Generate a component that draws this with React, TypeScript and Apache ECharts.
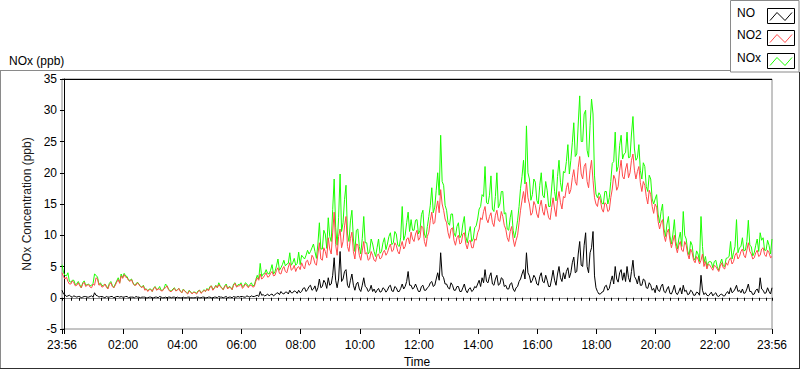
import React, { useEffect, useRef } from "react";
import * as echarts from "echarts";

// First sample at 23:56 (= -4 minutes from midnight), one sample every 3 minutes
const START_MIN = -4;
const STEP_MIN = 3;

// NO (ppb)
const NO = [
  1.2,0.6,0.5,0.2,0.3,0.4,0.2,0.1,0.3,0.2,0.1,0.2,0.2,0.0,0.1,0.2,0.2,0.1,0.1,0.2,
  0.3,0.1,0.8,0.4,0.3,0.1,0.2,0.2,0.1,0.0,0.2,0.1,0.1,0.2,0.2,0.0,0.1,0.2,0.2,0.1,
  0.2,0.1,0.1,0.2,0.2,0.0,0.1,0.1,0.1,0.0,0.2,0.1,0.1,0.0,0.1,0.1,0.1,0.0,0.0,0.1,
  0.1,0.0,0.0,0.1,0.1,0.0,0.2,0.1,0.0,0.0,0.1,0.0,0.1,0.1,0.0,0.1,0.1,0.0,0.1,0.0,
  0.0,0.0,0.1,0.0,0.0,0.1,0.1,0.0,0.0,0.0,0.0,0.1,0.1,0.0,0.0,0.1,0.1,0.0,0.0,0.1,
  0.1,0.0,0.0,0.1,0.1,0.0,0.2,0.1,0.1,0.0,0.1,0.2,0.0,0.1,0.1,0.0,0.2,0.1,0.1,0.2,
  0.1,0.2,0.2,0.1,0.1,0.3,0.2,0.1,0.3,0.2,0.2,0.3,0.4,0.2,1.0,0.4,0.5,0.3,0.4,0.6,
  0.3,0.5,0.6,0.3,0.5,0.7,0.8,0.5,1.0,0.7,0.6,0.9,0.9,0.6,1.2,0.8,0.8,1.1,1.0,0.7,
  1.2,0.8,1.0,1.5,1.6,1.0,1.3,1.8,2.0,1.2,1.4,1.9,1.0,1.6,3.0,1.6,1.8,2.8,2.4,1.5,
  3.2,2.0,2.2,3.6,6.4,2.8,1.6,3.0,7.4,2.6,3.0,4.2,4.5,2.0,1.6,2.8,3.8,2.0,1.2,2.2,
  2.5,1.4,1.0,2.0,3.2,1.8,1.6,1.0,1.2,2.0,1.0,1.4,0.8,1.2,1.5,0.9,1.0,1.6,1.4,0.9,
  1.2,1.8,2.0,1.1,1.0,1.8,1.6,1.0,1.0,1.5,2.2,1.4,1.8,2.6,4.2,2.0,2.0,1.4,1.6,2.2,
  1.6,1.0,1.0,1.8,2.0,1.2,1.2,1.6,1.8,2.4,2.6,1.8,2.0,3.0,4.0,2.8,7.2,3.6,3.2,2.2,
  2.2,1.6,1.4,2.4,2.0,1.2,1.2,1.8,1.8,1.0,1.0,1.6,2.2,1.2,0.8,1.4,1.6,1.0,1.2,1.8,
  1.6,2.2,2.8,1.8,3.2,2.4,4.5,2.6,2.4,3.4,4.0,2.2,2.0,3.0,3.6,2.0,2.2,3.2,3.0,1.8,
  2.0,1.4,1.4,2.2,2.4,1.4,1.0,1.6,1.8,2.6,3.0,3.8,4.5,3.0,7.2,4.0,3.5,2.4,2.8,3.6,
  3.2,2.2,2.0,3.4,4.0,2.6,2.4,3.6,2.8,1.8,1.8,3.0,4.4,2.8,2.0,3.8,5.0,3.2,2.6,4.0,
  3.0,4.2,4.8,3.2,4.0,5.6,6.5,4.0,4.2,7.0,9.0,5.2,5.0,8.4,10.4,5.0,4.0,7.2,8.0,10.6,
  3.5,1.6,1.0,0.6,0.6,0.9,1.0,1.8,2.0,1.2,1.5,2.6,3.5,2.2,5.0,3.0,2.5,4.0,4.5,2.8,
  4.0,2.6,5.0,3.2,2.5,4.2,6.0,3.4,3.0,2.2,3.5,2.0,2.0,3.0,2.8,1.6,1.5,2.4,2.0,1.2,
  1.5,0.8,2.0,1.2,1.0,1.8,2.2,1.0,0.8,1.4,1.8,0.7,0.6,1.2,2.0,0.8,0.5,1.0,1.6,0.6,
  2.0,1.0,1.2,0.5,0.6,1.2,1.0,0.4,0.4,0.9,0.8,0.4,3.6,1.2,0.5,0.8,0.4,0.3,0.6,0.9,
  0.3,0.6,0.8,0.3,0.2,0.5,0.6,0.3,0.3,0.7,1.0,0.6,1.6,0.8,1.0,1.4,2.0,1.0,1.2,0.8,
  1.4,0.7,0.8,1.4,2.2,1.0,1.0,0.5,0.6,1.2,1.4,0.8,3.2,1.4,1.2,0.7,0.8,1.6,1.0,0.6,
  1.6,
];

// NO2 (ppb)
const NO2 = [
  4.0,3.4,3.0,3.3,2.6,2.2,2.2,2.7,2.4,1.9,2.0,2.4,1.9,1.6,2.2,2.5,1.8,2.0,2.1,1.7,
  1.6,2.2,2.0,3.2,3.0,2.0,2.2,1.7,1.8,2.2,1.7,1.4,2.1,2.4,1.8,1.6,2.0,2.5,2.9,2.3,
  3.5,3.1,3.7,3.3,3.2,2.8,2.6,2.9,2.3,2.0,2.0,2.4,2.1,1.8,1.6,1.9,1.2,1.4,1.0,1.3,
  1.3,1.0,1.5,1.7,1.2,1.4,1.4,1.1,1.1,1.5,1.6,1.9,1.3,1.0,1.0,1.3,1.5,1.1,1.2,1.5,
  1.0,0.8,1.3,1.1,0.8,0.6,1.1,0.9,0.6,0.9,0.8,0.6,1.0,1.2,0.7,0.9,1.2,1.0,1.4,1.1,
  1.6,1.9,1.2,1.5,1.9,1.6,2.1,1.8,1.5,1.3,1.8,2.0,1.4,1.7,1.6,1.3,2.0,2.3,1.7,1.9,
  1.9,2.2,1.5,1.8,2.2,1.9,1.6,2.0,2.0,1.7,1.8,2.6,3.2,2.8,3.8,3.0,3.2,3.6,4.0,3.3,
  3.4,3.9,4.2,3.5,3.6,4.4,4.8,3.9,3.8,4.6,5.0,4.2,4.0,4.9,5.6,4.4,4.6,5.2,4.2,4.8,
  5.0,4.5,5.6,5.0,4.6,5.8,6.0,5.2,5.4,6.8,6.4,5.5,5.2,7.0,8.8,6.2,6.0,8.0,7.4,6.4,
  9.6,7.8,7.0,10.5,13.7,8.5,6.8,9.8,11.0,8.0,9.0,11.5,13.0,8.2,7.4,9.5,10.5,7.4,6.2,8.6,
  8.5,6.8,6.0,7.5,9.0,7.0,7.2,6.0,6.2,7.4,6.8,6.0,5.8,6.8,7.0,6.2,6.4,7.2,7.6,6.8,
  7.2,8.0,8.6,7.4,7.6,8.8,8.4,7.4,7.0,8.2,9.0,7.8,8.2,9.4,9.6,8.6,10.5,9.4,9.0,10.2,
  10.8,9.2,9.6,11.5,11.2,9.0,8.2,9.8,10.5,12.4,13.7,11.8,12.0,14.2,15.5,13.6,17.3,15.0,14.0,12.6,
  12.0,10.4,9.5,11.0,11.2,9.2,8.4,9.6,10.0,8.6,8.8,10.2,10.4,8.6,7.8,9.0,9.2,8.0,8.0,9.4,
  9.2,10.4,11.0,12.8,12.5,13.8,14.6,12.6,12.0,13.0,13.6,12.0,11.4,13.2,14.0,12.4,12.2,13.8,13.0,11.6,
  11.0,9.6,9.0,10.6,11.4,9.4,8.2,9.2,10.0,12.0,14.0,15.6,17.0,15.2,18.5,16.0,15.0,13.2,13.6,15.4,
  14.8,13.4,12.8,14.6,15.6,13.8,13.2,15.0,14.0,12.8,12.5,14.4,16.0,14.2,13.0,15.6,17.0,15.2,14.2,16.2,
  16.0,17.6,18.4,16.6,17.3,19.2,20.5,18.6,18.0,20.8,22.6,19.8,19.0,21.0,21.5,18.6,17.6,20.4,22.0,18.8,
  16.0,15.0,14.6,16.2,15.6,14.2,13.7,15.2,15.0,13.8,14.0,16.0,17.4,19.6,19.0,17.2,17.8,20.4,22.0,19.4,
  19.0,20.6,21.5,19.2,20.0,22.0,23.0,20.4,19.0,20.2,21.0,18.4,17.0,18.6,18.0,16.2,15.0,17.2,16.5,14.6,
  13.5,15.0,14.5,12.2,11.0,12.0,12.5,10.0,9.0,10.4,11.0,9.2,8.0,9.0,10.0,8.2,7.2,8.4,9.0,7.6,
  7.4,9.0,8.4,7.0,6.2,7.8,7.2,6.0,5.6,6.6,6.2,5.4,6.0,7.0,5.0,5.8,4.6,5.4,5.2,4.8,
  4.4,5.2,5.0,4.6,4.2,5.0,5.6,4.8,4.6,5.6,5.2,6.0,6.4,5.4,5.8,6.8,7.2,6.2,6.6,7.4,
  7.8,6.8,6.4,7.6,8.8,7.4,7.0,6.2,6.4,7.2,7.6,6.6,6.8,7.8,8.0,6.9,6.6,7.6,7.2,6.4,
  6.6,
];

// NOx (ppb)
const NOX = [
  5.3,4.0,3.6,3.5,4.0,2.6,2.5,2.8,2.8,2.1,2.2,2.6,2.1,1.6,2.4,2.7,2.0,2.1,2.2,1.9,
  2.0,2.3,3.8,3.6,3.3,2.1,2.4,1.9,2.0,2.2,1.9,1.5,2.3,2.6,2.0,1.6,2.2,2.7,3.2,2.4,
  3.8,3.2,3.9,3.5,3.4,2.8,2.8,3.0,2.4,2.0,2.2,2.5,2.2,1.8,1.7,2.0,1.4,1.4,1.1,1.4,
  1.4,1.0,1.6,1.8,1.3,1.4,1.8,1.2,1.2,1.5,2.2,1.9,1.4,1.1,1.1,1.4,1.6,1.1,1.3,1.5,
  1.1,0.8,1.4,1.1,0.9,0.7,1.2,0.9,0.7,0.9,0.9,0.7,1.1,1.2,0.8,1.0,1.3,1.0,1.5,1.2,
  1.8,1.9,1.3,1.6,2.0,1.6,2.4,1.9,1.6,1.3,1.9,2.2,1.5,1.8,1.7,1.3,2.2,2.4,1.8,2.1,
  2.1,2.4,1.8,1.9,2.4,2.2,1.8,2.1,2.4,1.9,2.0,2.9,3.6,3.0,5.5,3.4,3.8,3.9,4.5,3.9,
  3.8,4.4,5.3,3.8,4.2,5.1,6.2,4.4,4.8,5.3,6.0,5.1,5.4,5.5,7.2,5.2,5.6,6.3,5.2,5.5,
  7.3,5.3,6.8,6.5,6.2,6.8,7.6,7.0,7.4,8.0,8.6,7.4,6.3,8.6,12.0,7.8,7.8,10.8,10.2,7.9,
  12.8,9.8,9.0,14.1,19.0,11.3,8.4,12.8,19.8,10.6,12.0,15.7,18.0,10.2,9.0,12.3,14.0,9.4,7.4,10.8,
  11.0,8.2,7.0,9.5,13.0,8.8,8.8,7.0,7.4,9.4,8.6,7.4,6.6,8.0,9.4,7.1,7.4,8.8,9.6,7.7,
  8.6,9.8,10.4,8.5,8.8,10.6,10.2,8.4,8.2,9.7,14.6,9.2,10.0,12.0,13.7,10.6,12.5,10.8,10.8,12.4,
  12.5,10.2,10.8,13.3,14.0,10.2,9.6,11.4,13.0,14.8,17.6,13.6,14.5,17.2,20.0,16.4,26.0,18.6,18.0,14.8,
  14.0,12.0,11.6,13.4,13.4,10.4,9.8,11.4,12.0,9.6,10.0,11.8,13.0,9.8,8.8,10.4,11.4,9.0,9.4,11.2,
  11.5,12.6,14.2,14.6,16.5,16.2,21.0,15.2,15.0,16.4,19.5,14.2,13.8,16.2,20.0,14.4,15.0,17.0,17.0,13.4,
  13.6,11.0,10.8,12.8,14.0,10.8,9.6,10.8,12.4,14.6,17.5,19.4,22.0,18.2,27.5,20.0,19.0,15.6,16.5,19.0,
  18.5,15.6,15.0,18.0,20.0,16.4,16.0,18.6,17.2,14.6,14.6,17.4,20.5,17.0,15.5,19.4,22.0,18.4,17.0,20.2,
  20.0,21.8,24.5,19.8,22.0,24.8,28.0,22.6,23.0,27.8,32.3,25.0,25.0,29.4,30.0,23.6,22.5,27.6,31.8,29.4,
  19.5,16.6,16.0,16.8,16.4,15.1,15.0,17.0,17.0,15.0,16.0,18.6,21.5,21.8,26.5,20.2,21.0,24.4,26.0,22.2,
  23.0,23.2,26.5,22.4,22.5,26.2,29.0,23.8,22.0,22.4,24.5,20.4,19.0,21.6,21.0,17.8,17.0,19.6,19.0,15.8,
  15.0,15.8,16.5,13.4,12.0,13.8,15.0,11.0,9.8,11.8,13.0,9.9,8.6,10.2,12.5,9.0,7.8,9.4,10.5,8.2,
  13.8,10.0,9.4,7.5,6.8,9.0,8.4,6.4,6.0,7.5,7.0,5.8,13.0,8.2,5.6,6.6,5.0,5.7,5.8,5.7,
  4.8,5.8,6.0,4.9,4.4,5.5,6.2,5.1,5.0,6.3,6.4,6.6,9.0,6.2,7.2,8.2,12.5,7.2,8.0,8.2,
  9.6,7.5,7.6,9.0,12.4,8.4,8.2,6.7,7.2,8.4,9.4,7.4,10.4,9.2,9.6,7.6,7.6,9.2,8.4,7.0,
  9.4,
];

// x axis: labelled positions (minutes from midnight) and minor tick spacing
const X_MIN = -4;
const X_MAX = 1436;
const LABEL_MINUTES = [-4, 120, 240, 360, 480, 600, 720, 840, 960, 1080, 1200, 1320, 1436];
const MINOR_TICK_STEP = 15;
const Y_MIN = -5;
const Y_MAX = 35;
const Y_INTERVAL = 5;

const SERIES_NAMES = ["NO", "NO2", "NOx"];
const COLORS = { NO: "#000000", NO2: "#ff4a4a", NOx: "#1cff00" };

const FONT = "Liberation Sans, Arial, sans-serif";

function fmtTime(v: number): string {
  const m = ((Math.round(v) % 1440) + 1440) % 1440;
  const hh = Math.floor(m / 60);
  const mm = m % 60;
  return String(hh).padStart(2, "0") + ":" + String(mm).padStart(2, "0");
}

function toPairs(arr: number[]) {
  return arr.map((v, i) => [START_MIN + STEP_MIN * i, v]);
}

export default function App() {
  const ref = useRef<HTMLDivElement>(null);
  useEffect(() => {
    if (!ref.current) return;
    const chart = echarts.init(ref.current, null, { renderer: "svg" });

    const minorTicks: number[] = [X_MIN];
    for (let t = 0; t <= X_MAX; t += MINOR_TICK_STEP) minorTicks.push(t);
    minorTicks.push(X_MAX);

    const legendRows = [
      { name: SERIES_NAMES[0], color: COLORS.NO, top: 6 },
      { name: SERIES_NAMES[1], color: COLORS.NO2, top: 28 },
      { name: SERIES_NAMES[2], color: COLORS.NOx, top: 51 },
    ];
    const legendGraphics: any[] = [];
    legendRows.forEach((r) => {
      legendGraphics.push({
        type: "text",
        left: 737,
        top: r.top + 1,
        style: { text: r.name, font: `12px ${FONT}`, fill: "#000" },
      });
      legendGraphics.push({
        type: "rect",
        shape: { x: 767.5, y: r.top + 2.5, width: 27, height: 15 },
        style: { fill: "#fff", stroke: "#000", lineWidth: 1 },
      });
      const y0 = r.top + 2.5;
      legendGraphics.push({
        type: "polyline",
        shape: {
          points: [
            [770, y0 + 12],
            [777, y0 + 4],
            [785, y0 + 12],
            [792, y0 + 4],
          ],
        },
        style: { stroke: r.color, fill: "none", lineWidth: 1 },
      });
    });

    const option: any = {
      animation: false,
      backgroundColor: "#ffffff",
      textStyle: { fontFamily: FONT },
      title: {
        text: "NOx (ppb)",
        left: 4,
        top: 50,
        textStyle: { fontSize: 12, fontWeight: "normal", color: "#000", fontFamily: FONT },
      },
      grid: {
        left: 62,
        top: 79,
        width: 710,
        height: 250,
        outerBoundsMode: "none",
        containLabel: false,
        show: true,
        borderColor: "#8a8a8a",
        borderWidth: 1,
        backgroundColor: "#fff",
      },
      xAxis: [
        {
          type: "value",
          min: X_MIN,
          max: X_MAX,
          name: "Time",
          nameLocation: "middle",
          nameGap: 27,
          nameTextStyle: { fontSize: 12, color: "#000", fontFamily: FONT },
          axisLine: { show: true, lineStyle: { color: "#8a8a8a" } },
          axisTick: {
            show: true,
            customValues: minorTicks,
            length: 3,
            lineStyle: { color: "#000" },
          },
          axisLabel: {
            customValues: LABEL_MINUTES,
            formatter: (v: number) => fmtTime(v),
            fontSize: 12,
            color: "#000",
            margin: 10,
            fontFamily: FONT,
          },
          splitLine: { show: false },
        },
        {
          type: "value",
          min: X_MIN,
          max: X_MAX,
          position: "bottom",
          axisLine: { show: false },
          axisTick: {
            show: true,
            customValues: LABEL_MINUTES.concat([0]),
            length: 5,
            lineStyle: { color: "#000" },
          },
          axisLabel: { show: false },
          splitLine: { show: false },
        },
      ],
      yAxis: {
        type: "value",
        min: Y_MIN,
        max: Y_MAX,
        interval: Y_INTERVAL,
        name: "NOx Concentration (ppb)",
        nameLocation: "middle",
        nameGap: 21,
        nameTextStyle: { fontSize: 12, color: "#1a1a1a", fontFamily: FONT },
        axisLine: { show: true, lineStyle: { color: "#000" } },
        axisTick: { show: true, length: 4, lineStyle: { color: "#000" } },
        axisLabel: { fontSize: 12, color: "#000", margin: 5, fontFamily: FONT },
        splitLine: { show: false },
      },
      graphic: [
        { type: "line", shape: { x1: 62, y1: 79.5, x2: 772, y2: 79.5 }, style: { stroke: "#000", lineWidth: 1 } },
        { type: "line", shape: { x1: 0, y1: 70.5, x2: 730, y2: 70.5 }, style: { stroke: "#8a8a8a", lineWidth: 1 } },
        { type: "line", shape: { x1: 0.5, y1: 70, x2: 0.5, y2: 369 }, style: { stroke: "#8a8a8a", lineWidth: 1 } },
        { type: "line", shape: { x1: 0, y1: 368.5, x2: 800, y2: 368.5 }, style: { stroke: "#303030", lineWidth: 1 } },
        { type: "line", shape: { x1: 799.5, y1: 72, x2: 799.5, y2: 369 }, style: { stroke: "#303030", lineWidth: 1 } },
        {
          type: "rect",
          shape: { x: 730.5, y: 0.5, width: 68.5, height: 71.5 },
          style: { fill: "#fff", stroke: "#8a8a8a", lineWidth: 1 },
        },
        ...legendGraphics,
      ],
      series: [
        {
          name: SERIES_NAMES[2],
          type: "line",
          data: toPairs(NOX),
          showSymbol: false,
          symbol: "none",
          lineStyle: { color: COLORS.NOx, width: 1 },
          itemStyle: { color: COLORS.NOx },
          z: 2,
        },
        {
          name: SERIES_NAMES[1],
          type: "line",
          data: toPairs(NO2),
          showSymbol: false,
          symbol: "none",
          lineStyle: { color: COLORS.NO2, width: 1 },
          itemStyle: { color: COLORS.NO2 },
          z: 3,
        },
        {
          name: SERIES_NAMES[0],
          type: "line",
          data: toPairs(NO),
          showSymbol: false,
          symbol: "none",
          lineStyle: { color: COLORS.NO, width: 1 },
          itemStyle: { color: COLORS.NO },
          z: 4,
        },
      ],
    };
    chart.setOption(option);
    return () => chart.dispose();
  }, []);
  return (
    <div
      ref={ref}
      style={{ position: "absolute", left: 0, top: 0, width: 800, height: 369 }}
    />
  );
}
